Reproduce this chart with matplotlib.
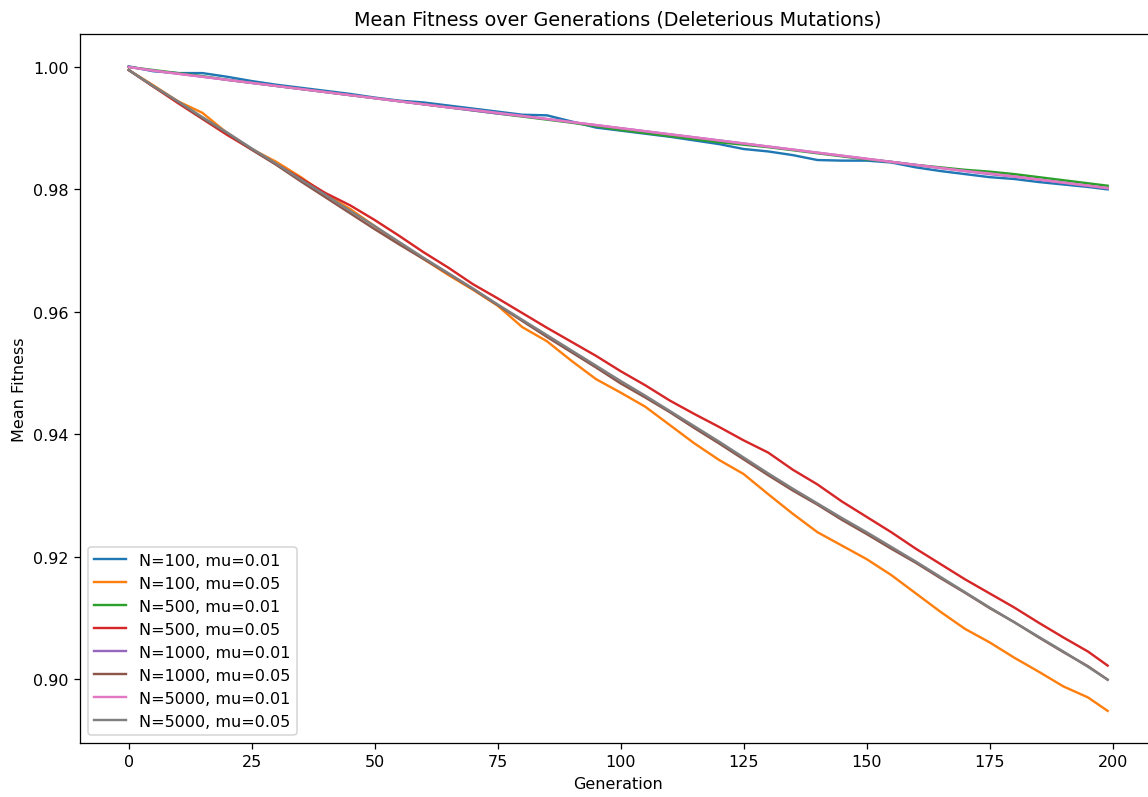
import matplotlib
matplotlib.use("Agg")
import matplotlib.pyplot as plt

# generations sampled every 5 steps (last one is 199)
generations = list(range(0, 200, 5)) + [199]

# mean fitness
n100_mu001 = [1.0001, 0.9993, 0.9990, 0.9990, 0.9984, 0.9977, 0.9971, 0.9966, 0.9961, 0.9956,
              0.9950, 0.9945, 0.9942, 0.9937, 0.9932, 0.9927, 0.9922, 0.9921, 0.9911, 0.9901,
              0.9896, 0.9891, 0.9886, 0.9880, 0.9874, 0.9866, 0.9862, 0.9856, 0.9848, 0.9847,
              0.9847, 0.9844, 0.9836, 0.9830, 0.9825, 0.9820, 0.9817, 0.9812, 0.9808, 0.9804,
              0.9800]
n100_mu005 = [0.9995, 0.9970, 0.9944, 0.9925, 0.9892, 0.9866, 0.9845, 0.9820, 0.9792, 0.9768,
              0.9740, 0.9712, 0.9686, 0.9660, 0.9636, 0.9610, 0.9575, 0.9552, 0.9520, 0.9490,
              0.9468, 0.9445, 0.9415, 0.9385, 0.9358, 0.9335, 0.9302, 0.9270, 0.9240, 0.9218,
              0.9196, 0.9170, 0.9140, 0.9110, 0.9082, 0.9060, 0.9035, 0.9012, 0.8988, 0.8970,
              0.8948]
n500_mu001 = [1.0000, 0.9995, 0.9990, 0.9985, 0.9979, 0.9974, 0.9969, 0.9964, 0.9959, 0.9954,
              0.9949, 0.9944, 0.9939, 0.9934, 0.9929, 0.9924, 0.9919, 0.9914, 0.9909, 0.9903,
              0.9897, 0.9892, 0.9887, 0.9882, 0.9877, 0.9873, 0.9869, 0.9864, 0.9859, 0.9854,
              0.9849, 0.9845, 0.9840, 0.9836, 0.9832, 0.9829, 0.9825, 0.9820, 0.9815, 0.9810,
              0.9806]
n500_mu005 = [0.9995, 0.9968, 0.9941, 0.9915, 0.9889, 0.9865, 0.9841, 0.9818, 0.9794, 0.9774,
              0.9750, 0.9724, 0.9697, 0.9672, 0.9645, 0.9622, 0.9598, 0.9574, 0.9551, 0.9528,
              0.9503, 0.9480, 0.9455, 0.9433, 0.9412, 0.9390, 0.9370, 0.9342, 0.9318, 0.9290,
              0.9265, 0.9240, 0.9213, 0.9188, 0.9163, 0.9140, 0.9117, 0.9092, 0.9068, 0.9045,
              0.9022]
n1000_mu001 = [1.0000, 0.9994, 0.9989, 0.9984, 0.9979, 0.9974, 0.9969, 0.9964, 0.9959, 0.9954,
               0.9949, 0.9944, 0.9939, 0.9934, 0.9929, 0.9924, 0.9920, 0.9915, 0.9910, 0.9905,
               0.9900, 0.9895, 0.9890, 0.9885, 0.9880, 0.9875, 0.9870, 0.9865, 0.9860, 0.9855,
               0.9850, 0.9845, 0.9840, 0.9835, 0.9830, 0.9825, 0.9821, 0.9816, 0.9811, 0.9806,
               0.9802]
n1000_mu005 = [0.9995, 0.9968, 0.9943, 0.9916, 0.9892, 0.9865, 0.9840, 0.9813, 0.9787, 0.9761,
               0.9735, 0.9710, 0.9686, 0.9662, 0.9637, 0.9611, 0.9585, 0.9559, 0.9534, 0.9509,
               0.9483, 0.9460, 0.9436, 0.9410, 0.9385, 0.9359, 0.9333, 0.9308, 0.9285, 0.9260,
               0.9237, 0.9213, 0.9190, 0.9165, 0.9141, 0.9116, 0.9093, 0.9068, 0.9044, 0.9021,
               0.8999]
n5000_mu001 = [1.0000, 0.9994, 0.9989, 0.9984, 0.9979, 0.9974, 0.9969, 0.9964, 0.9959, 0.9954,
               0.9949, 0.9944, 0.9939, 0.9934, 0.9930, 0.9925, 0.9920, 0.9915, 0.9910, 0.9905,
               0.9900, 0.9895, 0.9890, 0.9885, 0.9880, 0.9875, 0.9870, 0.9865, 0.9860, 0.9855,
               0.9850, 0.9845, 0.9840, 0.9835, 0.9830, 0.9826, 0.9821, 0.9816, 0.9811, 0.9806,
               0.9802]
n5000_mu005 = [0.9995, 0.9969, 0.9944, 0.9918, 0.9893, 0.9867, 0.9842, 0.9816, 0.9791, 0.9765,
               0.9740, 0.9714, 0.9688, 0.9663, 0.9638, 0.9612, 0.9587, 0.9562, 0.9537, 0.9512,
               0.9487, 0.9463, 0.9438, 0.9413, 0.9388, 0.9362, 0.9336, 0.9311, 0.9287, 0.9263,
               0.9240, 0.9216, 0.9192, 0.9167, 0.9142, 0.9117, 0.9093, 0.9069, 0.9045, 0.9020,
               0.8999]

series = [n100_mu001, n100_mu005, n500_mu001, n500_mu005,
          n1000_mu001, n1000_mu005, n5000_mu001, n5000_mu005]
labels = ["N=100, mu=0.01", "N=100, mu=0.05", "N=500, mu=0.01", "N=500, mu=0.05",
          "N=1000, mu=0.01", "N=1000, mu=0.05", "N=5000, mu=0.01", "N=5000, mu=0.05"]

# reference looks like a 10in figure scaled up, so bump dpi instead of font sizes
fig = plt.figure(figsize=(10, 6.951), dpi=114.8)
ax = fig.add_axes([0.0695, 0.0675, 0.938, 0.8885])

for vals, lab in zip(series, labels):
    ax.plot(generations, vals, label=lab)

ax.set_title("Mean Fitness over Generations (Deleterious Mutations)", fontsize=12)
ax.set_xlabel("Generation")
ax.set_ylabel("Mean Fitness")
ax.legend(loc="lower left")

fig.savefig("out.png", dpi=114.8)
